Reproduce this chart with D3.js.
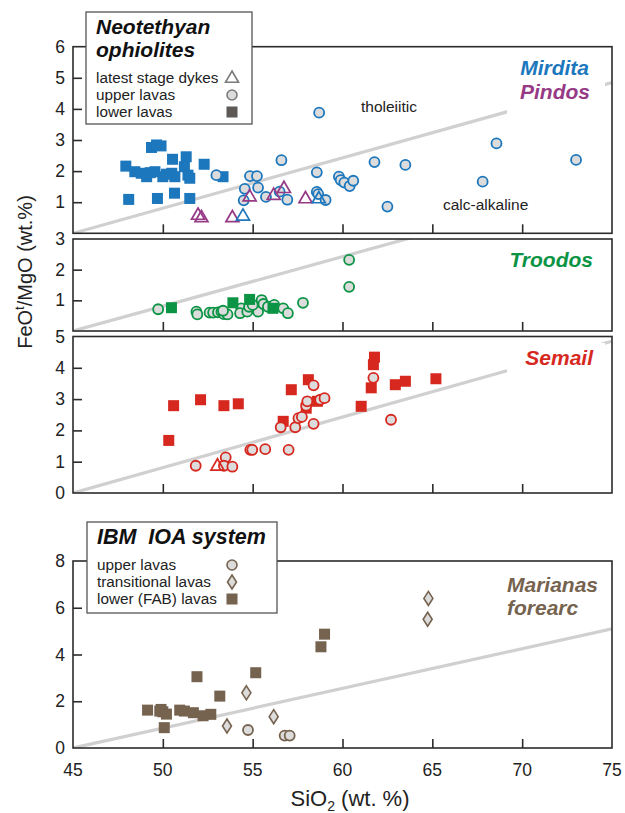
<!DOCTYPE html>
<html><head><meta charset="utf-8">
<script src="https://cdn.jsdelivr.net/npm/d3@7"></script>
<style>body{margin:0;background:#fff}svg{display:block;font-family:"Liberation Sans",Arial,sans-serif}</style>
</head><body><svg id="c" width="625" height="813"></svg>
<script>
// ---------- data (SiO2 wt.%, FeOt/MgO) ----------
const xTicks = [45, 50, 55, 60, 65, 70, 75];
const mirditaLower = [[49.65,2.84],[49.37,2.76],[49.9,2.81],[47.94,2.16],[50.54,2.38],[51.3,2.46],[52.3,2.22],[48.44,1.98],[48.8,1.93],[49.1,1.82],[49.56,1.98],[50.0,1.82],[50.5,1.93],[50.67,1.82],[51.2,2.14],[51.4,1.87],[51.5,1.77],[53.35,1.82],[48.1,1.09],[49.7,1.12],[50.65,1.29],[51.5,1.12],[49.3,1.95],[50.2,1.9]];
const mirditaUpper = [[52.98,1.87],[54.85,1.84],[55.24,1.84],[54.56,1.43],[54.5,1.06],[55.3,1.47],[55.74,1.17],[56.6,2.35],[56.93,1.08],[56.5,1.34],[58.57,1.96],[58.57,1.33],[58.65,1.26],[59.06,1.07],[58.7,3.88],[59.8,1.82],[59.9,1.71],[60.1,1.63],[60.4,1.52],[60.6,1.69],[61.78,2.29],[63.5,2.2],[62.5,0.86],[68.57,2.89],[67.8,1.66],[73.0,2.36]];
const mirditaDykes = [[54.46,0.56],[58.68,1.12]];
const pindosDykes = [[51.96,0.59],[52.15,0.51],[53.87,0.51],[54.83,1.18],[56.17,1.23],[56.74,1.45],[57.94,1.12]];
const troodosUpper = [[49.74,0.71],[51.87,0.63],[51.92,0.54],[52.6,0.6],[52.8,0.6],[53.07,0.61],[53.26,0.63],[53.4,0.55],[53.6,0.54],[53.35,0.66],[54.37,0.74],[54.3,0.58],[54.7,0.63],[54.8,0.79],[55.3,0.63],[55.0,0.85],[55.5,1.01],[55.6,0.88],[55.85,0.79],[56.2,0.85],[56.7,0.74],[56.96,0.58],[57.8,0.92],[60.37,2.32],[60.37,1.44]];
const troodosLower = [[50.48,0.76],[53.9,0.92],[54.83,1.03],[56.13,0.74]];
const semailLower = [[50.6,2.79],[50.33,1.68],[52.1,2.98],[53.4,2.79],[54.2,2.85],[56.7,2.29],[57.15,3.3],[58.1,3.62],[58.6,2.93],[57.98,2.71],[61.78,4.34],[61.72,4.1],[61.6,3.36],[61.04,2.77],[62.94,3.46],[63.5,3.57],[65.2,3.65]];
const semailUpper = [[51.83,0.87],[53.5,1.14],[53.4,0.87],[53.87,0.84],[54.87,1.38],[54.98,1.38],[55.7,1.4],[57.0,1.38],[56.56,2.1],[57.37,2.1],[57.55,2.39],[57.74,2.43],[57.98,2.79],[58.04,2.93],[58.39,3.44],[58.39,2.21],[58.76,2.98],[59.0,3.03],[61.72,3.68],[62.7,2.34]];
const semailDykes = [[53.04,0.87]];
const ibmLower = [[49.15,1.62],[49.83,1.58],[50.0,1.55],[50.2,1.45],[50.08,0.87],[50.94,1.62],[51.2,1.58],[51.7,1.51],[52.24,1.38],[52.67,1.44],[51.9,3.05],[53.17,2.22],[55.17,3.22],[58.8,4.33],[59.0,4.87],[49.9,1.65]];
const ibmTransitional = [[54.65,2.36],[53.57,0.94],[56.17,1.34],[64.78,6.4],[64.74,5.51]];
const ibmUpper = [[54.74,0.77],[56.78,0.53],[57.06,0.53]];
const divideOphiolite = [[45,0],[75,4.85]];
const divideIBM = [[45,0],[75,5.1]];
const legendOphiolite = ["latest stage dykes","upper lavas","lower lavas"];
const legendIBM = ["upper lavas","transitional lavas","lower (FAB) lavas"];

// ---------- colours ----------
const C = {mirdita:"#1c77bd", pindos:"#963a86", troodos:"#0c9445", semail:"#d7281f", ibm:"#76634f", grey:"#7a7a7a", fill:"#dcdcdc", line:"#d0d0d0", axis:"#2b2b2b"};

const svg = d3.select("#c");
const x = d3.scaleLinear().domain([45,75]).range([73,612]);

const panels = [
  {top:46.7, bottom:233.3, dom:[0,6], ticks:[1,2,3,4,5], labels:[1,2,3,4,5,6], line:divideOphiolite, gap:[507,55,98,62]},
  {top:239, bottom:331, dom:[0,3], ticks:[1,2], labels:[1,2,3], line:divideOphiolite},
  {top:336.5, bottom:493, dom:[0,5], ticks:[1,2,3,4], labels:[0,1,2,3,4,5], line:divideOphiolite, gap:[507,343,98,30]},
  {top:561, bottom:748, dom:[0,8], ticks:[2,4,6], labels:[0,2,4,6,8], line:divideIBM, xlabels:true}
];
panels.forEach((p,i)=>{ p.y = d3.scaleLinear().domain(p.dom).range([p.bottom,p.top]); p.i=i; });

function tri(s){ const h=s*0.866; return `M0,${-h*0.62}L${s/2},${h*0.38}L${-s/2},${h*0.38}Z`; }
function diamond(w,h){ return `M0,${-h/2}L${w/2},0L0,${h/2}L${-w/2},0Z`; }

function drawPanel(p){
  const g = svg.append("g");
  const cid = "clip"+p.i;
  svg.append("clipPath").attr("id",cid).append("rect").attr("x",x(45)).attr("y",p.top).attr("width",x(75)-x(45)).attr("height",p.bottom-p.top);
  g.append("path").attr("clip-path",`url(#${cid})`).attr("d",d3.line().x(d=>x(d[0])).y(d=>p.y(d[1]))(p.line))
    .attr("stroke",C.line).attr("stroke-width",3.2).attr("fill","none");
  if(p.gap) g.append("rect").attr("x",p.gap[0]).attr("y",p.gap[1]).attr("width",p.gap[2]).attr("height",p.gap[3]).attr("fill","#fff");
  const ya = d3.axisLeft(p.y).tickValues(p.ticks).tickSize(-9).tickFormat("");
  g.append("g").attr("transform",`translate(${x(45)},0)`).call(ya).call(a=>{a.select(".domain").remove(); a.selectAll("line").attr("stroke",C.axis).attr("stroke-width",1.6);});
  g.selectAll("text.yl").data(p.labels).join("text").attr("class","yl")
    .attr("x",65).attr("y",d=>p.y(d)+6).attr("text-anchor","end").attr("font-size",17.5).attr("fill","#222").text(d=>d);
  const xa = d3.axisBottom(x).tickValues(xTicks.slice(1,-1)).tickSize(-9).tickFormat("");
  g.append("g").attr("transform",`translate(0,${p.bottom})`).call(xa).call(a=>{a.select(".domain").remove(); a.selectAll("line").attr("stroke",C.axis).attr("stroke-width",1.6);});
  if(p.xlabels){
    g.selectAll("text.xl").data(xTicks).join("text").attr("class","xl")
      .attr("x",d=>x(d)).attr("y",p.bottom+28).attr("text-anchor","middle").attr("font-size",17.5).attr("fill","#222").text(d=>d);
  }
  g.append("rect").attr("x",x(45)).attr("y",p.top).attr("width",x(75)-x(45)).attr("height",p.bottom-p.top)
    .attr("fill","none").attr("stroke",C.axis).attr("stroke-width",1.6);
  return g;
}

function squares(g,p,data,col){
  g.append("g").selectAll("rect").data(data).join("rect")
    .attr("x",d=>x(d[0])-5.5).attr("y",d=>p.y(d[1])-5.5).attr("width",11).attr("height",11).attr("fill",col);
}
function circles(g,p,data,col){
  g.append("g").selectAll("circle").data(data).join("circle")
    .attr("cx",d=>x(d[0])).attr("cy",d=>p.y(d[1])).attr("r",5).attr("fill",C.fill).attr("stroke",col).attr("stroke-width",1.8);
}
function triangles(g,p,data,col){
  g.append("g").selectAll("path").data(data).join("path")
    .attr("transform",d=>`translate(${x(d[0])},${p.y(d[1])})`).attr("d",tri(13)).attr("fill","none").attr("stroke",col).attr("stroke-width",1.7);
}
function diamonds(g,p,data,col){
  g.append("g").selectAll("path").data(data).join("path")
    .attr("transform",d=>`translate(${x(d[0])},${p.y(d[1])})`).attr("d",diamond(9,14)).attr("fill",C.fill).attr("stroke",col).attr("stroke-width",1.6);
}
function big(g,xp,yp,txt,col,anchor){
  return g.append("text").attr("x",xp).attr("y",yp).attr("text-anchor",anchor||"start").attr("font-size",21).attr("font-weight","bold").attr("font-style","italic").attr("fill",col).text(txt);
}

const g1 = drawPanel(panels[0]);
squares(g1,panels[0],mirditaLower,C.mirdita);
circles(g1,panels[0],mirditaUpper,C.mirdita);
triangles(g1,panels[0],pindosDykes,C.pindos);
triangles(g1,panels[0],mirditaDykes,C.mirdita);
g1.append("text").attr("x",361).attr("y",112).attr("font-size",15.5).attr("fill","#222").text("tholeiitic");
g1.append("text").attr("x",443).attr("y",210).attr("font-size",15.5).attr("fill","#222").text("calc-alkaline");
big(g1,589,75,"Mirdita",C.mirdita,"end");
big(g1,590,99,"Pindos",C.pindos,"end");

const g2 = drawPanel(panels[1]);
circles(g2,panels[1],troodosUpper,C.troodos);
squares(g2,panels[1],troodosLower,C.troodos);
big(g2,593,267,"Troodos",C.troodos,"end");

const g3 = drawPanel(panels[2]);
squares(g3,panels[2],semailLower,C.semail);
circles(g3,panels[2],semailUpper,C.semail);
triangles(g3,panels[2],semailDykes,C.semail);
big(g3,593,365,"Semail",C.semail,"end");

const g4 = drawPanel(panels[3]);
squares(g4,panels[3],ibmLower,C.ibm);
diamonds(g4,panels[3],ibmTransitional,C.ibm);
circles(g4,panels[3],ibmUpper,C.ibm);
big(g4,507,592,"Marianas",C.ibm);
big(g4,507,615,"forearc",C.ibm);

{
  const L = svg.append("g");
  L.append("rect").attr("x",86).attr("y",12).attr("width",166).attr("height",112).attr("fill","#fff").attr("stroke","#555").attr("stroke-width",1.3);
  big(L,96,34,"Neotethyan","#111");
  big(L,96,57,"ophiolites","#111");
  L.selectAll("text.it").data(legendOphiolite).join("text").attr("class","it")
    .attr("x",96).attr("y",(d,i)=>83+i*17).attr("font-size",15.3).attr("fill","#222").text(d=>d);
  L.append("path").attr("transform","translate(232,78)").attr("d",tri(13)).attr("fill","none").attr("stroke",C.grey).attr("stroke-width",1.6);
  L.append("circle").attr("cx",232).attr("cy",95).attr("r",5).attr("fill",C.fill).attr("stroke",C.grey).attr("stroke-width",1.6);
  L.append("rect").attr("x",226.5).attr("y",106.5).attr("width",11).attr("height",11).attr("fill","#5e5a58");
}
{
  const L = svg.append("g");
  L.append("rect").attr("x",87).attr("y",522).attr("width",190).attr("height",91).attr("fill","#fff").attr("stroke","#555").attr("stroke-width",1.3);
  big(L,97,544,"IBM\u00a0\u00a0IOA system","#111").attr("font-size",21.5);
  L.selectAll("text.it").data(legendIBM).join("text").attr("class","it")
    .attr("x",97).attr("y",(d,i)=>570+i*17).attr("font-size",15.3).attr("fill","#222").text(d=>d);
  L.append("circle").attr("cx",232).attr("cy",565).attr("r",5).attr("fill",C.fill).attr("stroke",C.ibm).attr("stroke-width",1.6);
  L.append("path").attr("transform","translate(232,582)").attr("d",diamond(9,14)).attr("fill",C.fill).attr("stroke",C.ibm).attr("stroke-width",1.6);
  L.append("rect").attr("x",226.5).attr("y",593.5).attr("width",11).attr("height",11).attr("fill",C.ibm);
}

const yt = svg.append("text").attr("transform","translate(32,272) rotate(-90)").attr("text-anchor","middle").attr("font-size",20).attr("fill","#222");
yt.append("tspan").text("FeO");
yt.append("tspan").attr("font-size",13).attr("dy",-8).text("t");
yt.append("tspan").attr("dy",8).text("/MgO (wt.%)");
const xt = svg.append("text").attr("x",350).attr("y",806).attr("text-anchor","middle").attr("font-size",22).attr("fill","#222");
xt.append("tspan").text("SiO");
xt.append("tspan").attr("font-size",14).attr("dy",5).text("2");
xt.append("tspan").attr("dy",-5).text(" (wt. %)");
</script></body></html>
